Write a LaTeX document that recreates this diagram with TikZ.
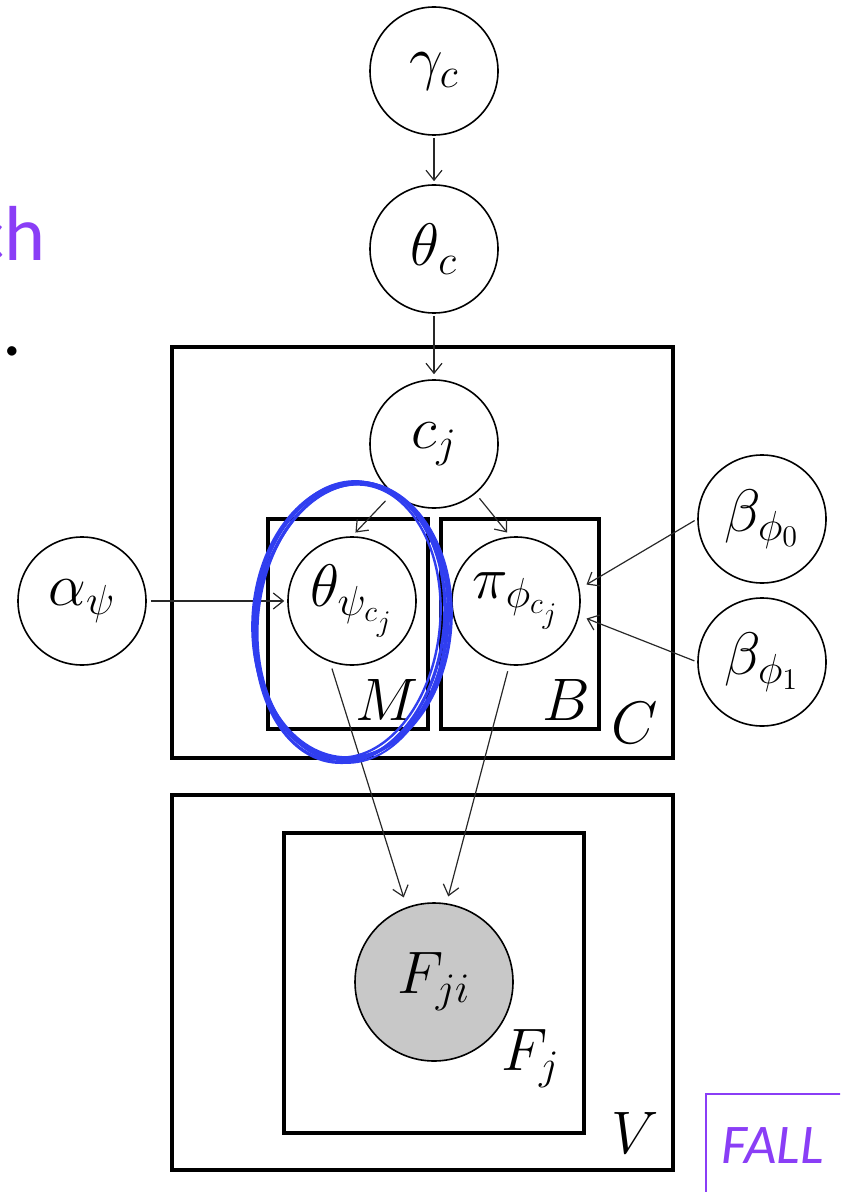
\RequirePackage{fix-cm}
\documentclass[tikz,border=0pt]{standalone}
\usepackage{fontspec}
\newfontfamily\calib{Carlito}
\usetikzlibrary{arrows.meta}
\definecolor{purp}{RGB}{138,62,246}
\definecolor{hblue}{RGB}{48,62,240}
\definecolor{fgray}{RGB}{200,200,200}
\definecolor{lgray}{RGB}{40,40,40}
\begin{document}
\begin{tikzpicture}[x=0.5pt,y=-0.5pt,
  var/.style={circle,draw,line width=0.8pt,minimum size=64pt,inner sep=0pt,font=\fontsize{30}{36}\selectfont},
  plate/.style={draw,line width=1.6pt},
  edge/.style={line width=0.6pt,draw=lgray,-{Straight Barb[length=5pt,width=8pt]}},
  lab/.style={anchor=base east,inner sep=0pt,font=\fontsize{30}{36}\selectfont},
  hand/.style={draw=hblue,line width=1.6pt}]
\useasboundingbox (0,0) rectangle (840,1192);
\clip (0,0) rectangle (840,1192);
% plates
\draw[plate] (172,347) rectangle (673,758);
\draw[plate] (268,519) rectangle (428,729);
\draw[plate] (441,519) rectangle (599,729);
\draw[plate] (172,795) rectangle (673,1170);
\draw[plate] (284,833) rectangle (584,1133);
% plate labels
\node[lab] (lM) at (419,720) {$M$};
\node[lab] (lB) at (591,720) {$B$};
\node[lab] (lC) at (658,743) {$C$};
\node[lab] (lFj) at (560,1070) {$F_j$};
\node[lab] (lV) at (659,1153) {$V$};
% variables
\node[var] (g) at (434,71) {$\gamma_c$};
\node[var] (tc) at (434,249) {$\theta_c$};
\node[var] (cj) at (434,444) {$c_j$};
\node[var] (th) at (352,601) {$\theta_{\psi_{c_j}}$};
\node[var] (pi) at (516,601) {$\pi_{\phi_{c_j}}$};
\node[var] (a) at (82,601) {$\alpha_\psi$};
\node[var] (b0) at (762,519) {$\beta_{\phi_0}$};
\node[var] (b1) at (762,662) {$\beta_{\phi_1}$};
\node[var,fill=fgray,minimum size=79pt] (F) at (434,982) {$F_{ji}$};
% edges
\draw[edge,shorten <=1pt,shorten >=1.5pt] (g) -- (tc);
\draw[edge,shorten <=1pt,shorten >=2.5pt] (tc) -- (cj);
\draw[edge,shorten <=5pt,shorten >=2.5pt] (cj.230) -- (th.90);
\draw[edge,shorten <=3pt,shorten >=2.5pt] (cj.310) -- (pi.95);
\draw[edge,shorten <=2pt,shorten >=1.5pt] (a.east) -- (th.west);
\draw[edge,shorten <=1.5pt,shorten >=4pt] (b0.west) -- (pi.11);
\draw[edge,shorten <=1.5pt,shorten >=4pt] (b1.west) -- (pi.-13);
\draw[edge,shorten <=3.5pt,shorten >=5pt] (th.250) -- (F.110);
\draw[edge,shorten <=3pt,shorten >=3.5pt] (pi.264) -- (F.81);
% hand-drawn highlight
\draw[hand] (351,621) ellipse [x radius=97, y radius=139, rotate=-5];
\draw[hand] (350,623) ellipse [x radius=94, y radius=140, rotate=-7];
\draw[hand] (352,620) ellipse [x radius=99, y radius=138, rotate=-4];
\draw[hand,line width=1.2pt] (349,621) ellipse [x radius=91, y radius=137, rotate=-6];
\draw[hand,line width=1pt] (351,622) ellipse [x radius=95, y radius=141, rotate=-3];
% slide fragments
\node[anchor=base east,inner sep=0pt,text=purp,font=\calib\fontsize{39}{44}\selectfont] (ch) at (46,261) {ch};
\node[anchor=base,inner sep=0pt,font=\calib\fontsize{39}{44}\selectfont] (dot) at (12,355) {.};
\coordinate (fb1) at (706,1240);
\coordinate (fb2) at (706,1094);
\coordinate (fb3) at (900,1094);
\draw[purp,line width=1.1pt] (fb1) -- (fb2) -- (fb3);
\node[anchor=base west,inner sep=0pt,text=purp,font=\calib\itshape\fontsize{28}{34}\selectfont] (fall) at (721,1163) {FALL};
\end{tikzpicture}
\end{document}
